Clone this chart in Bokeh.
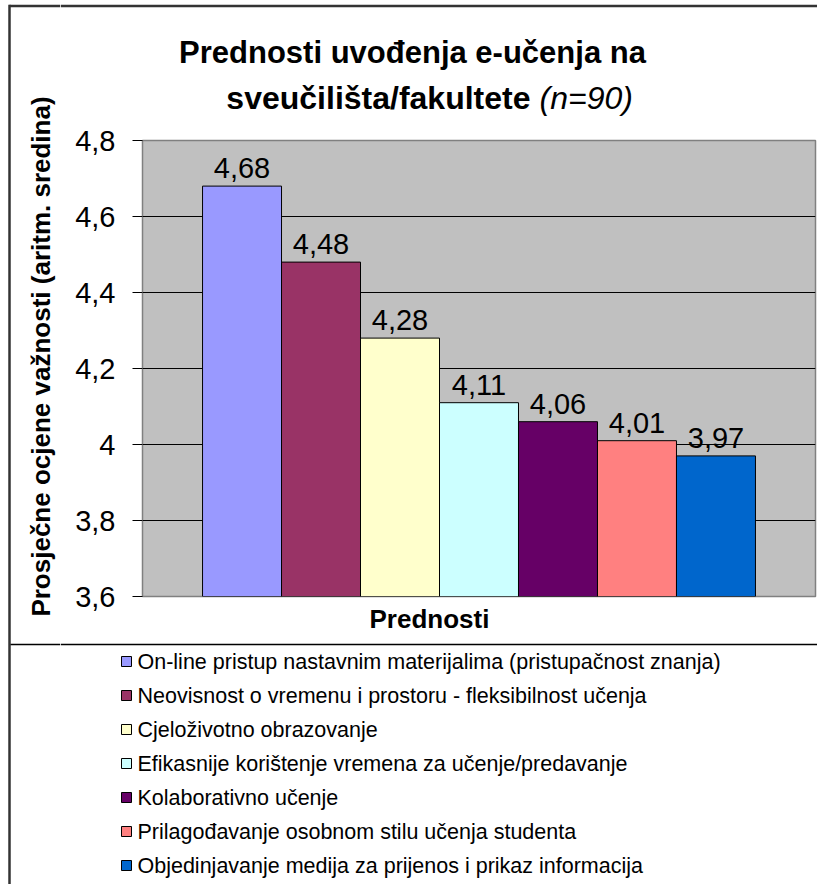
import math
from bokeh.plotting import figure
from bokeh.layouts import column, row
from bokeh.models import Range1d, FixedTicker, LabelSet, ColumnDataSource, Title
from bokeh.core.properties import value
from bokeh.embed import file_html
from bokeh.resources import INLINE

# ---- data ----
categories = [
    "On-line pristup nastavnim materijalima (pristupačnost znanja)",
    "Neovisnost o vremenu i prostoru - fleksibilnost učenja",
    "Cjeloživotno obrazovanje",
    "Efikasnije korištenje vremena za učenje/predavanje",
    "Kolaborativno učenje",
    "Prilagođavanje osobnom stilu učenja studenta",
    "Objedinjavanje medija za prijenos i prikaz informacija",
]
values = [4.68, 4.48, 4.28, 4.11, 4.06, 4.01, 3.97]
colors = ["#9999FF", "#993366", "#FFFFCC", "#CCFFFF", "#660066", "#FF8080", "#0066CC"]
y_ticks = [3.6, 3.8, 4.0, 4.2, 4.4, 4.6, 4.8]
y_tick_labels = ["3,6", "3,8", "4", "4,2", "4,4", "4,6", "4,8"]
title_line1 = "Prednosti uvođenja e-učenja na"
title_line2 = "sveučilišta/fakultete"
title_n = "(n=90)"
y_title = "Prosječne ocjene važnosti (aritm. sredina)"
x_title = "Prednosti"

FONT = "Liberation Sans"
BORDER = "#333333"
TOTAL_W, TOTAL_H = 817, 884
LEFT_W = 60
TOP_H = 120
Y_MID0 = TOP_H
Y_BOT0 = 640
LEG_LINE_Y = 644


def helper(x0, x1, y0, y1):
    """Blank figure whose data coordinates are picture pixels (y negated)."""
    f = figure(width=x1 - x0, height=y1 - y0, x_range=Range1d(x0, x1),
               y_range=Range1d(-y1, -y0), x_axis_type=None, y_axis_type=None,
               output_backend="svg", toolbar_location=None, title=None,
               min_border=0, min_border_left=0, min_border_right=0,
               min_border_top=0, min_border_bottom=0)
    f.outline_line_color = None
    f.background_fill_color = "white"
    f.border_fill_color = "white"
    return f


def txt(f, x, y, s, size, style="normal", align="left", angle=0):
    f.text(x=[x], y=[-y], text=[s], angle=angle, text_align=align, text_baseline="middle",
           text_font=value(FONT), text_font_size=value(size), text_font_style=style,
           text_color="black")


def hline(f, x0, x1, y, color, w):
    f.segment(x0=[x0], y0=[-y], x1=[x1], y1=[-y], line_color=color, line_width=w)


# ---- left strip: outer border + rotated axis title ----
L = helper(0, LEFT_W, 0, TOTAL_H)
L.segment(x0=[9], y0=[-4.3], x1=[9], y1=[-TOTAL_H], line_color=BORDER, line_width=2.5)
hline(L, 9, LEFT_W, 5.5, BORDER, 2.5)
hline(L, 10, LEFT_W, LEG_LINE_Y, "black", 1.5)
txt(L, 40, 356, y_title, "26px", "bold", "center", angle=math.pi / 2)

# ---- title strip ----
T = helper(LEFT_W, TOTAL_W, 0, TOP_H)
hline(T, LEFT_W, TOTAL_W, 5.5, BORDER, 2.5)
txt(T, 412, 52, title_line1, "31px", "bold", "center")
txt(T, 530, 97, title_line2, "32px", "bold", "right")
txt(T, 539, 97, title_n, "32px", "italic", "left")

# ---- main chart ----
FL, FR, FT, FB = 142, 815, 140, 597  # plot-area edges in picture pixels
idx = list(range(len(values)))
labels = [f"{v:.2f}".replace(".", ",") for v in values]
src = ColumnDataSource(dict(x=idx, top=values, color=colors, label=labels))
gap = 0.76
M = figure(width=TOTAL_W - LEFT_W, height=Y_BOT0 - Y_MID0, output_backend="svg",
           toolbar_location=None, title=None,
           x_range=Range1d(-0.5 - gap, len(values) - 0.5 + gap),
           y_range=Range1d(y_ticks[0], y_ticks[-1]),
           min_border_left=FL - LEFT_W, min_border_right=TOTAL_W - FR,
           min_border_top=FT - Y_MID0, min_border_bottom=Y_BOT0 - FB)
M.background_fill_color = "#C0C0C0"
M.border_fill_color = "white"
M.outline_line_color = "#808080"
M.outline_line_width = 1.5
M.vbar(x="x", top="top", bottom=y_ticks[0], width=1.0, fill_color="color",
       line_color="black", line_width=1, source=src)
M.xaxis.visible = False
M.xgrid.visible = False
M.ygrid.ticker = FixedTicker(ticks=y_ticks[1:-1])
M.ygrid.grid_line_color = "black"
M.ygrid.grid_line_width = 1
ax = M.yaxis[0]
ax.ticker = FixedTicker(ticks=y_ticks)
ax.major_label_overrides = {t: l for t, l in zip(y_ticks, y_tick_labels)}
ax.major_tick_out = 10
ax.major_tick_in = 0
ax.minor_tick_line_color = None
ax.major_tick_line_color = "black"
ax.axis_line_color = "#808080"
ax.major_label_standoff = 17
ax.major_label_text_font = FONT
ax.major_label_text_font_size = "29px"
ax.major_label_text_color = "black"
M.add_layout(LabelSet(x="x", y="top", text="label", source=src, y_offset=18,
                      text_align="center", text_baseline="middle",
                      text_font=value(FONT), text_font_size=value("29px"),
                      text_color="black"))
M.add_layout(Title(text=x_title, align="left", offset=369 - FL, vertical_align="middle",
                   text_font=FONT, text_font_size="26px", text_font_style="bold",
                   text_color="black", standoff=12), "below")

# ---- bottom strip: legend ----
B = helper(LEFT_W, TOTAL_W, Y_BOT0, TOTAL_H)
hline(B, LEFT_W, TOTAL_W, LEG_LINE_Y, "black", 1.5)
row_y = [-(661 + 34 * i) for i in idx]
B.rect(x=[126] * len(idx), y=row_y, width=10, height=10, fill_color=colors,
       line_color="black", line_width=1)
B.text(x=[137] * len(idx), y=row_y, text=categories, text_align="left",
       text_baseline="middle", text_font=value(FONT), text_font_size=value("21.5px"),
       text_color="black")

layout = row(L, column(T, row(M), B))
open("out.html", "w").write(file_html(layout, INLINE))
